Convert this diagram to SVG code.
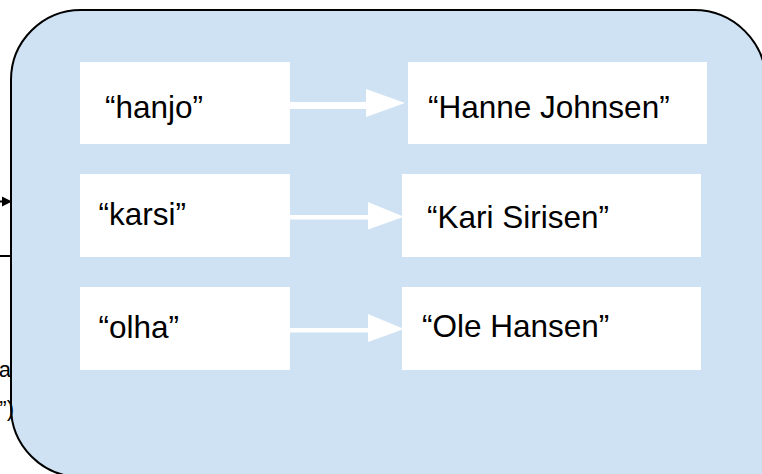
<svg xmlns="http://www.w3.org/2000/svg" width="762" height="474" viewBox="0 0 762 474">
  <style>
    .panel { fill: #cfe2f3; stroke: #000000; stroke-width: 2; }
    .box { fill: #ffffff; }
    .label { font-family: "Liberation Sans", Arial, sans-serif; font-size: 31.5px; fill: #000000; }
    .side { font-family: "Liberation Sans", Arial, sans-serif; font-size: 22px; fill: #000000; }
    .flow { fill: #ffffff; }
    .wire { stroke: #000000; stroke-width: 2; fill: none; }
  </style>

  <rect width="762" height="474" fill="#ffffff"/>

  <!-- incoming lines from the left edge -->
  <g id="left-connectors">
    <line class="wire" x1="0" y1="201.5" x2="4" y2="201.5"/>
    <polygon points="2,196.5 12,201.5 2,206.5" fill="#000000"/>
    <line class="wire" x1="0" y1="256" x2="12" y2="256"/>
  </g>

  <!-- map container (rounded panel running past the right and bottom edges) -->
  <g id="map">
    <path class="panel" d="M81,10 H694 A72,72 0 0 1 766,82 V477 H81 A70,70 0 0 1 11,407 V80 A70,70 0 0 1 81,10 Z"/>
  </g>

  <!-- partly visible caption at the left edge -->
  <g id="side-caption">
    <text class="side" x="11" y="377" text-anchor="end">na</text>
    <text class="side" x="14" y="416" text-anchor="end">”)</text>
  </g>

  <!-- key/value arrows -->
  <g id="connectors">
    <rect class="flow" x="290" y="102" width="77" height="7"/>
    <polygon class="flow" points="366,89 405,103 366,117"/>
    <rect class="flow" x="290" y="215" width="79" height="4.5"/>
    <polygon class="flow" points="368,202 404,216.7 368,229.5"/>
    <rect class="flow" x="290" y="328" width="79" height="4.5"/>
    <polygon class="flow" points="368,314 404,329 368,342"/>
  </g>

  <g id="key-hanjo">
    <rect class="box" x="80" y="62" width="210" height="82"/>
    <text class="label" x="105" y="118.3">“hanjo”</text>
  </g>
  <g id="value-hanne">
    <rect class="box" x="408" y="62" width="299" height="82"/>
    <text class="label" x="428" y="118.3">“Hanne Johnsen”</text>
  </g>

  <g id="key-karsi">
    <rect class="box" x="80" y="174" width="210" height="83"/>
    <text class="label" x="98.5" y="225">“karsi”</text>
  </g>
  <g id="value-kari">
    <rect class="box" x="402" y="174" width="299" height="83"/>
    <text class="label" x="427" y="228.3">“Kari Sirisen”</text>
  </g>

  <g id="key-olha">
    <rect class="box" x="80" y="287" width="210" height="83"/>
    <text class="label" x="98.5" y="337.7">“olha”</text>
  </g>
  <g id="value-ole">
    <rect class="box" x="402" y="287" width="299" height="83"/>
    <text class="label" x="422" y="337">“Ole Hansen”</text>
  </g>
</svg>
